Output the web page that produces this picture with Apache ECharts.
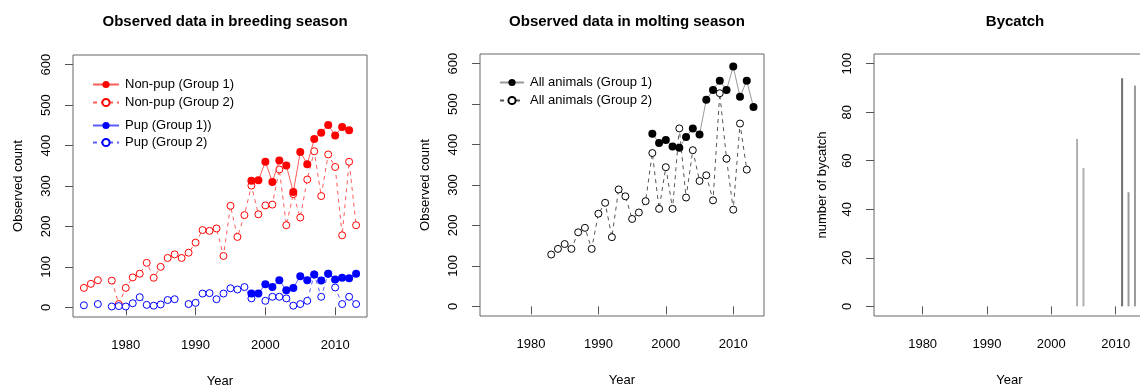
<!DOCTYPE html>
<html>
<head>
<meta charset="utf-8">
<script src="https://cdn.jsdelivr.net/npm/echarts@6/dist/echarts.min.js"></script>
<style>
  html, body { margin: 0; padding: 0; background: #fff; }
  #chart { width: 1140px; height: 387px; }
</style>
</head>
<body>
<div id="chart"></div>
<script>
// ---- data -------------------------------------------------------------
const years = [1974, 1975, 1976, 1977, 1978, 1979, 1980, 1981, 1982, 1983,
               1984, 1985, 1986, 1987, 1988, 1989, 1990, 1991, 1992, 1993,
               1994, 1995, 1996, 1997, 1998, 1999, 2000, 2001, 2002, 2003,
               2004, 2005, 2006, 2007, 2008, 2009, 2010, 2011, 2012, 2013];

// breeding season counts
const nonPupG1 = [null, null, null, null, null, null, null, null, null, null,
                  null, null, null, null, null, null, null, null, null, null,
                  null, null, null, null, 313, 314, 360, 310, 363, 351,
                  285, 384, 354, 416, 432, 451, 425, 446, 438, null];
const nonPupG2 = [48, 58, 67, null, 66, 8, 48, 74, 83, 110,
                  73, 100, 122, 131, 122, 135, 160, 191, 189, 195,
                  127, 251, 174, 228, 301, 230, 252, 254, 341, 203,
                  280, 222, 316, 386, 275, 378, 347, 178, 360, 203];
const pupG1 = [null, null, null, null, null, null, null, null, null, null,
               null, null, null, null, null, null, null, null, null, null,
               null, null, null, null, 34, 34, 57, 50, 67, 42,
               48, 77, 67, 81, 66, 83, 69, 73, 72, 83];
const pupG2 = [5, null, 8, null, 2, 3, 2, 10, 25, 6,
               4, 7, 18, 20, null, 8, 11, 34, 35, 20,
               34, 47, 44, 50, 22, null, 16, 26, 26, 22,
               4, 8, 16, 81, 26, 83, 49, 8, 26, 8];

// molting season counts
const allG1 = [null, null, null, null, null, null, null, null, null, null,
               null, null, null, null, null, null, null, null, null, null,
               null, null, null, null, 427, 404, 411, 395, 392, 419,
               440, 425, 511, 535, 558, 535, 593, 518, 558, 493];
const allG2 = [null, null, null, null, null, null, null, null, null, 128,
               142, 154, 142, 183, 194, 142, 229, 256, 171, 289,
               272, 216, 232, 260, 379, 241, 344, 241, 440, 269,
               386, 310, 324, 262, 527, 365, 239, 452, 338, null];

// bycatch
const bycatchYears = [2004, 2005, 2011, 2012, 2013];
const bycatch = [69, 57, 94, 47, 91];
const bycatchColors = ['#b0b0b0', '#b0b0b0', '#707070', '#9a9a9a', '#9a9a9a'];

// axis ticks
const yearTicks = [1980, 1990, 2000, 2010];
const countTicks = [0, 100, 200, 300, 400, 500, 600];
const bycatchTicks = [0, 20, 40, 60, 80, 100];

// ---- helpers ----------------------------------------------------------
const FONT = '"Liberation Sans", Arial, sans-serif';
const X_MIN = 1972.44, X_MAX = 2014.56;

function pairs(xs, ys) { return xs.map((x, i) => [x, ys[i]]); }
const plain = v => String(v);

function xAxisFor(gridIndex) {
  return {
    type: 'value', gridIndex, min: X_MIN, max: X_MAX,
    name: 'Year', nameLocation: 'middle', nameGap: 58,
    nameTextStyle: { fontFamily: FONT, fontSize: 13, color: '#000' },
    axisLine: { show: false },
    axisTick: { show: true, length: 8, lineStyle: { color: '#555' }, customValues: yearTicks },
    axisLabel: { customValues: yearTicks, formatter: plain, margin: 22, fontFamily: FONT, fontSize: 13, color: '#000' },
    splitLine: { show: false }
  };
}

function yAxisFor(gridIndex, min, max, ticks, name, gap) {
  return {
    type: 'value', gridIndex, min, max,
    name, nameLocation: 'middle', nameGap: gap, nameRotate: 90,
    nameTextStyle: { fontFamily: FONT, fontSize: 13, color: '#000' },
    axisLine: { show: false },
    axisTick: { show: true, length: 8, lineStyle: { color: '#555' }, customValues: ticks },
    axisLabel: { customValues: ticks, formatter: plain, rotate: 90, margin: 20, fontFamily: FONT, fontSize: 13, color: '#000' },
    splitLine: { show: false }
  };
}

function lineSeries(name, xi, yi, data, opts) {
  return Object.assign({
    name, type: 'line', xAxisIndex: xi, yAxisIndex: yi,
    data, connectNulls: false, animation: false, z: 2
  }, opts);
}

// open ring marker: white fill with a thin coloured outline
function ring(color) {
  return { color: '#fff', borderColor: color, borderWidth: 1 };
}

const gridStyle = {
  show: true, borderColor: '#666', borderWidth: 1, backgroundColor: 'transparent',
  containLabel: false, outerBoundsMode: 'none'
};
const legendText = { fontFamily: FONT, fontSize: 13, color: '#000', padding: [0, 0, 0, 1] };

const option = {
  animation: false,
  title: [
    { text: 'Observed data in breeding season', left: 220, top: 9, textAlign: 'center',
      textStyle: { fontFamily: FONT, fontSize: 15, fontWeight: 'bold', color: '#000' } },
    { text: 'Observed data in molting season', left: 622, top: 9, textAlign: 'center',
      textStyle: { fontFamily: FONT, fontSize: 15, fontWeight: 'bold', color: '#000' } },
    { text: 'Bycatch', left: 1010, top: 9, textAlign: 'center',
      textStyle: { fontFamily: FONT, fontSize: 15, fontWeight: 'bold', color: '#000' } }
  ],
  legend: [
    { data: ['Non-pup (Group 1)', 'Non-pup (Group 2)'], orient: 'vertical', left: 87, top: 73,
      itemWidth: 26, itemHeight: 9, itemGap: 5, textStyle: legendText },
    { data: ['Pup (Group 1))', 'Pup (Group 2)'], orient: 'vertical', left: 87, top: 114,
      itemWidth: 26, itemHeight: 9, itemGap: 4, textStyle: legendText },
    { data: ['All animals (Group 1)', 'All animals (Group 2)'], orient: 'vertical', left: 494, top: 71,
      itemWidth: 24, itemHeight: 9, itemGap: 5, textStyle: legendText }
  ],
  grid: [
    Object.assign({ left: 73, top: 55, width: 294, height: 262 }, gridStyle),
    Object.assign({ left: 480, top: 54, width: 284, height: 262 }, gridStyle),
    Object.assign({ left: 874, top: 54, width: 271, height: 262 }, gridStyle)
  ],
  xAxis: [xAxisFor(0), xAxisFor(1), xAxisFor(2)],
  yAxis: [
    yAxisFor(0, -24, 624, countTicks, 'Observed count', 48),
    yAxisFor(1, -24, 624, countTicks, 'Observed count', 48),
    yAxisFor(2, -4, 104, bycatchTicks, 'number of bycatch', 45)
  ],
  series: [
    lineSeries('Non-pup (Group 2)', 0, 0, pairs(years, nonPupG2), {
      symbol: 'circle', symbolSize: 7, itemStyle: ring('#ff0000'),
      lineStyle: { color: '#ff5c5c', width: 1, type: [4, 4] }
    }),
    lineSeries('Pup (Group 2)', 0, 0, pairs(years, pupG2), {
      symbol: 'circle', symbolSize: 7, itemStyle: ring('#0000ff'),
      lineStyle: { color: '#5c5cff', width: 1, type: [4, 4] }
    }),
    lineSeries('Non-pup (Group 1)', 0, 0, pairs(years, nonPupG1), {
      symbol: 'circle', symbolSize: 8, z: 3,
      itemStyle: { color: '#ff0000' },
      lineStyle: { color: '#ff5c5c', width: 1 }
    }),
    lineSeries('Pup (Group 1))', 0, 0, pairs(years, pupG1), {
      symbol: 'circle', symbolSize: 8, z: 3,
      itemStyle: { color: '#0000ff' },
      lineStyle: { color: '#5c5cff', width: 1 }
    }),
    lineSeries('All animals (Group 2)', 1, 1, pairs(years, allG2), {
      symbol: 'circle', symbolSize: 7, itemStyle: ring('#000'),
      lineStyle: { color: '#555', width: 1, type: [4, 4] }
    }),
    lineSeries('All animals (Group 1)', 1, 1, pairs(years, allG1), {
      symbol: 'circle', symbolSize: 8, z: 3,
      itemStyle: { color: '#000' },
      lineStyle: { color: '#999', width: 1 }
    }),
    {
      name: 'Bycatch', type: 'bar', xAxisIndex: 2, yAxisIndex: 2, barWidth: 2,
      data: bycatchYears.map((y, i) => ({ value: [y, bycatch[i]], itemStyle: { color: bycatchColors[i] } })),
      animation: false
    }
  ]
};

const chart = echarts.init(document.getElementById('chart'), null, { renderer: 'canvas' });
chart.setOption(option);
</script>
</body>
</html>
